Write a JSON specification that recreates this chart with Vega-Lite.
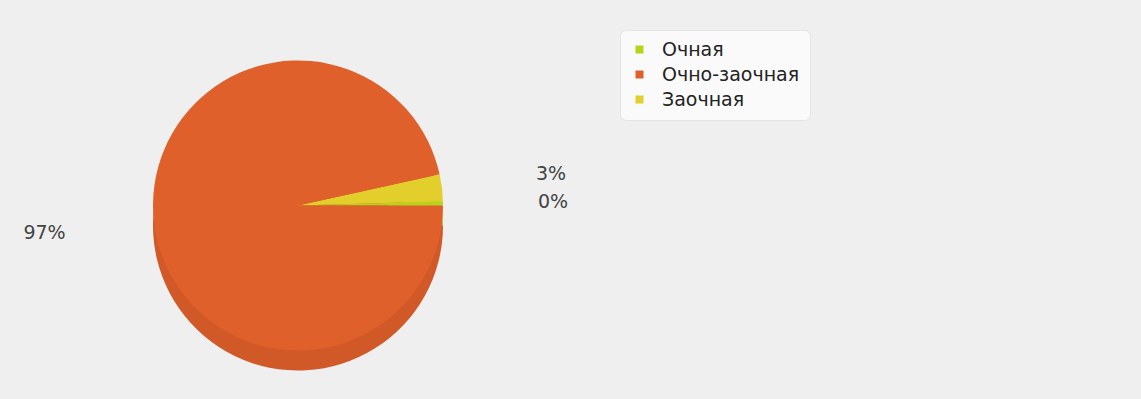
{
  "$schema": "https://vega.github.io/schema/vega-lite/v6.json",
  "width": 596,
  "height": 387,
  "autosize": "none",
  "padding": {"left": 0, "top": 12, "right": 545, "bottom": 0},
  "background": "#efefef",
  "config": {"view": {"stroke": null}, "font": "DejaVu Sans"},
  "data": {
    "values": [
      {"form": "Заочная", "value": 3, "label": "3%", "order": 1},
      {"form": "Очная", "value": 0.45, "label": "0%", "order": 2},
      {"form": "Очно-заочная", "value": 96.55, "label": "97%", "order": 3}
    ]
  },
  "encoding": {
    "theta": {"field": "value", "type": "quantitative", "stack": true, "scale": {"range": [1.354, 7.637]}},
    "order": {"field": "order", "type": "quantitative"}
  },
  "layer": [
    {
      "mark": {"type": "arc", "outerRadius": 145, "yOffset": 20},
      "encoding": {
        "color": {"field": "form", "type": "nominal",
          "scale": {"domain": ["Очная", "Очно-заочная", "Заочная"], "range": ["#b3d61c", "#e0602b", "#e2cf2c"]},
          "legend": {
            "title": null, "orient": "none", "legendX": 620, "legendY": 18,
            "symbolType": "square", "symbolSize": 64, "symbolStrokeWidth": 0, "labelFontSize": 19, "labelColor": "#222222",
            "labelOffset": 13, "rowPadding": 5, "padding": 10,
            "fillColor": "#fafafa", "strokeColor": "#e4e4e4", "cornerRadius": 6
          }
        }
      }
    },
    {
      "mark": {"type": "arc", "outerRadius": 145, "yOffset": 20, "color": "#000000", "opacity": 0.07},
      "encoding": {}
    },
    {
      "mark": {"type": "arc", "outerRadius": 145},
      "encoding": {
        "color": {"field": "form", "type": "nominal"}
      }
    },
    {
      "mark": {"type": "text", "radius": 255, "fontSize": 19, "color": "#444444"},
      "encoding": {"text": {"field": "label"}}
    }
  ]
}
